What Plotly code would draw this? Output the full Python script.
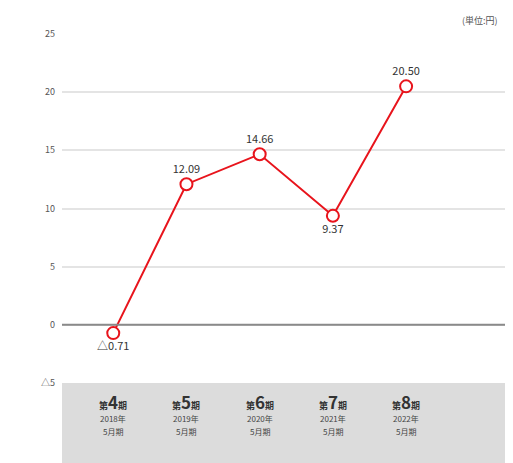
import plotly.graph_objects as go

periods = ["4", "5", "6", "7", "8"]
years = ["2018年", "2019年", "2020年", "2021年", "2022年"]
months = ["5月期", "5月期", "5月期", "5月期", "5月期"]
values = [-0.71, 12.09, 14.66, 9.37, 20.50]
value_labels = ["△0.71", "12.09", "14.66", "9.37", "20.50"]
label_pos = ["bottom center", "top center", "top center", "bottom center", "top center"]
ytick_vals = [-5, 0, 5, 10, 15, 20, 25]
ytick_text = ["△5", "0", "5", "10", "15", "20", "25"]

FONT = "Noto Sans CJK JP"
xs = list(range(len(values)))

fig = go.Figure()
fig.add_trace(go.Scatter(
    x=xs, y=values, mode="lines+markers+text",
    line=dict(color="#e8141c", width=2),
    marker=dict(size=12, color="white", line=dict(color="#e8141c", width=2)),
    text=value_labels, textposition=label_pos,
    textfont=dict(family=FONT, size=11, color="#333333"),
    cliponaxis=False, showlegend=False,
))

# gray category band below the plot
fig.add_shape(type="rect", xref="paper", yref="paper", x0=0, x1=1.2, y0=-0.3, y1=0,
              fillcolor="#dcdcdc", line=dict(width=0), layer="below")
fig.add_shape(type="line", xref="paper", yref="y", x0=0, x1=1.2, y0=0, y1=0,
              line=dict(color="#8a8a8a", width=2))

for i, (p, y, m) in enumerate(zip(periods, years, months)):
    fig.add_annotation(x=i, xref="x", y=-0.053, yref="paper", yanchor="middle",
                       text=f"<b>第<span style='font-size:17px'>{p}</span>期</b>", showarrow=False,
                       font=dict(family=FONT, size=9, color="#333333"))
    fig.add_annotation(x=i, xref="x", y=-0.103, yref="paper", yanchor="middle",
                       text=y, showarrow=False,
                       font=dict(family=FONT, size=8, color="#444444"))
    fig.add_annotation(x=i, xref="x", y=-0.14, yref="paper", yanchor="middle",
                       text=m, showarrow=False,
                       font=dict(family=FONT, size=8, color="#444444"))

fig.add_annotation(x=0.882, xref="paper", xanchor="left", y=1.04, yref="paper",
                   yanchor="middle", showarrow=False,
                   text="(単位:円)", font=dict(family=FONT, size=9, color="#555555"))

fig.update_layout(
    width=505, height=455,
    margin=dict(l=54, r=0, t=26, b=80),
    paper_bgcolor="white", plot_bgcolor="white",
    xaxis=dict(range=[-0.7, 5.46], showgrid=False, zeroline=False, showticklabels=False,
               fixedrange=True),
    yaxis=dict(range=[-5, 25], tickvals=ytick_vals, ticktext=ytick_text,
               showgrid=True, gridcolor="#e4e4e4", gridwidth=2, zeroline=False,
               tickfont=dict(family=FONT, size=9, color="#555555"),
               ticklabelstandoff=6),
)

fig.write_html("out.html")
